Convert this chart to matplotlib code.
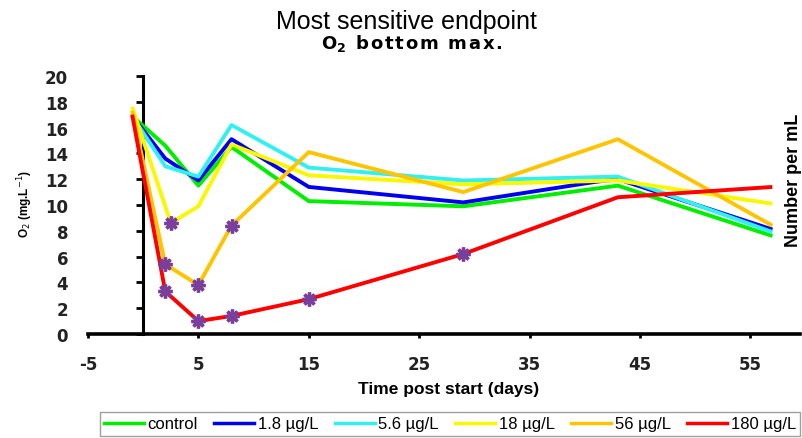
import matplotlib.pyplot as plt
from matplotlib.lines import Line2D

# days and O2 bottom max (mg/L) per treatment
series_names = ["control", "1.8 µg/L", "5.6 µg/L", "18 µg/L", "56 µg/L", "180 µg/L"]
series_colors = ["#00ee00", "#0000ee", "#33f0f0", "#f8f800", "#ffc400", "#ff0000"]

control_x = [-1, 2, 5, 8, 15, 29, 43, 57]
control_y = [16.9, 14.6, 11.5, 14.5, 10.3, 9.9, 11.5, 7.6]
low_x = [-1, 2, 5, 8, 15, 29, 41, 43, 57]
low_y = [16.9, 13.6, 11.9, 15.1, 11.4, 10.2, 11.8, 12.0, 8.1]
mid_x = [-1, 2, 5, 8, 15, 29, 43, 57]
mid_y = [16.9, 13.0, 12.2, 16.2, 12.9, 11.9, 12.2, 7.9]
d18_x = [-1, 2.5, 5, 8, 15, 29, 43, 57]
d18_y = [17.6, 8.6, 9.9, 14.7, 12.3, 11.6, 11.9, 10.1]
d56_x = [-1, 2, 5, 8, 15, 29, 43, 57]
d56_y = [17.3, 5.4, 3.8, 8.4, 14.1, 11.0, 15.1, 8.4]
d180_x = [-1, 2, 5, 8, 15, 29, 43, 57]
d180_y = [17.0, 3.3, 1.0, 1.4, 2.7, 6.2, 10.6, 11.4]

series_x = [control_x, low_x, mid_x, d18_x, d56_x, d180_x]
series_y = [control_y, low_y, mid_y, d18_y, d56_y, d180_y]

# indices of points flagged as significant (purple asterisks)
flagged = [[], [], [], [1], [1, 2, 3], [1, 2, 3, 4, 5]]

x_ticks = [-5, 5, 15, 25, 35, 45, 55]
y_ticks = [0, 2, 4, 6, 8, 10, 12, 14, 16, 18, 20]

plt.rcParams["font.family"] = ["Liberation Sans", "DejaVu Sans"]
plt.rcParams["axes.unicode_minus"] = False

fig = plt.figure(figsize=(8.02, 4.39), dpi=100)
ax = fig.add_axes([88 / 802, 1 - 335 / 439, 712 / 802, 258 / 439])

for xs, ys, color in zip(series_x, series_y, series_colors):
    ax.plot(xs, ys, color=color, lw=2.8, solid_capstyle="butt", zorder=3)

for xs, ys, idx in zip(series_x, series_y, flagged):
    if idx:
        ax.plot([xs[i] for i in idx], [ys[i] for i in idx], ls="none",
                marker=(8, 2, 0), ms=10, mew=2.4, color="#7a3f9a", zorder=4)

ax.set_xlim(-5, 59.5)
ax.set_ylim(0, 20)
ax.set_xticks(x_ticks)
ax.set_yticks(y_ticks)

for side in ["top", "right"]:
    ax.spines[side].set_visible(False)
ax.spines["left"].set_position(("data", 0))
ax.spines["left"].set_linewidth(2.2)
ax.spines["bottom"].set_linewidth(2.6)
ax.spines["left"].set_zorder(2)

ax.tick_params(axis="y", direction="out", length=5, width=2, pad=49,
               labelsize=12)
ax.tick_params(axis="x", direction="out", length=3, width=2, pad=12,
               labelsize=12)
for lbl in ax.get_xticklabels() + ax.get_yticklabels():
    lbl.set_fontweight("bold")
    lbl.set_family(["DejaVu Sans"])
    lbl.set_color("#222222")

fig.text(25 / 802, 1 - 204 / 439, "O$_2$ (mg.L$^{-1}$)", rotation=90, ha="center",
         va="center", fontsize=8.5, fontweight="bold")
fig.text(793 / 802, 1 - 180 / 439, "Number per mL", rotation=90, ha="center",
         va="center", fontsize=13, fontweight="bold")
fig.text(449 / 802, 1 - 390 / 439, "Time post start (days)", ha="center",
         va="center", fontsize=12.5, fontweight="bold")

fig.text(406 / 802, 1 - 29 / 439, "Most sensitive endpoint", ha="center",
         va="baseline", fontsize=18)
sub = "O$_\\mathbf{2}$\u200a" + "\u200a".join(" bottom max.")
fig.text(412 / 802, 1 - 49 / 439, sub, ha="center", va="baseline",
         fontsize=13, fontweight="bold", family=["DejaVu Sans"])

handles = [Line2D([], [], color=c, lw=2.5) for c in series_colors]
leg = fig.legend(handles, series_names, loc="center", ncol=6,
                 bbox_to_anchor=(450 / 802, 1 - 425 / 439), frameon=True,
                 fancybox=False, edgecolor="#888888", fontsize=12,
                 handlelength=2.4, handletextpad=0.2, columnspacing=1.0,
                 borderpad=0.25)
leg.get_frame().set_linewidth(1.0)

fig.savefig("out.png", dpi=100)
